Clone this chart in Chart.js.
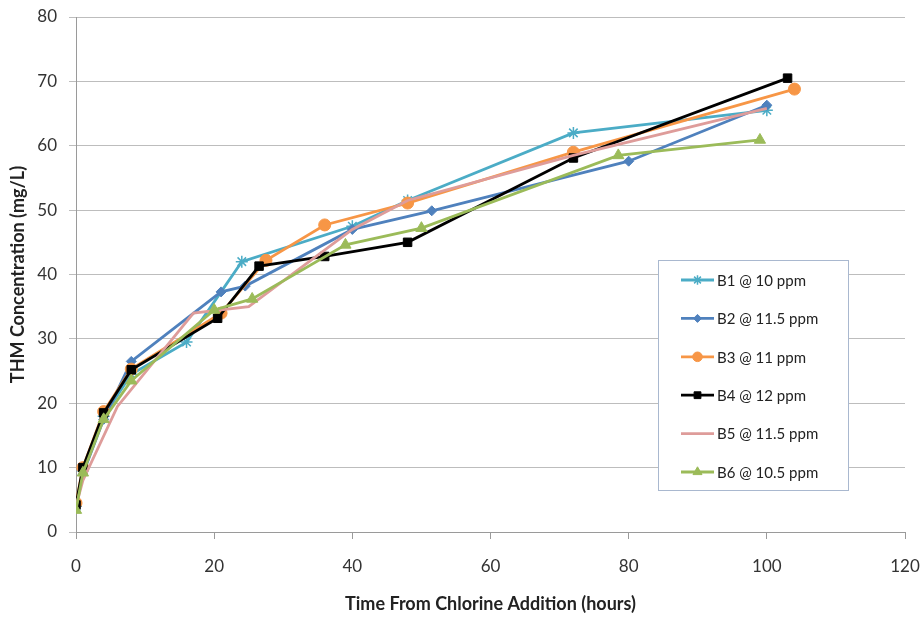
<!DOCTYPE html>
<html>
<head>
<meta charset="utf-8">
<script src="https://cdn.jsdelivr.net/npm/chart.js@4.4.1/dist/chart.umd.min.js"></script>
<style>
  html, body { margin: 0; padding: 0; background: #fff; }
  #wrap { width: 921px; height: 617px; position: relative; }
</style>
</head>
<body>
<div id="wrap"><canvas id="chart" width="921" height="617"></canvas></div>
<script>
// Series data (hours, mg/L)
const seriesNames = ['B1 @ 10 ppm', 'B2 @ 11.5 ppm', 'B3 @ 11 ppm', 'B4 @ 12 ppm', 'B5 @ 11.5 ppm', 'B6 @ 10.5 ppm'];

const b1Hours = [0, 1, 4, 8, 16, 24, 40, 48, 72, 100];
const b1Thm   = [4, 9.5, 18, 24.5, 29.5, 42, 47.5, 51.5, 62, 65.5];

const b2Hours = [0, 1, 4, 8, 21, 24.5, 40, 51.5, 80, 100];
const b2Thm   = [4, 9, 17.5, 26.5, 37.3, 38.2, 47, 49.9, 57.6, 66.3];

const b3Hours = [0, 1, 4, 8, 21, 27.5, 36, 48, 72, 104];
const b3Thm   = [4.5, 10, 18.7, 25.3, 34, 42.2, 47.7, 51.1, 59, 68.8];

const b4Hours = [0, 1, 4, 8, 20.5, 26.5, 36, 48, 72, 103];
const b4Thm   = [4.2, 10, 18.5, 25.2, 33.2, 41.3, 42.8, 45, 58.1, 70.5];

const b5Hours = [0, 1, 6, 17, 25, 40, 48, 72, 100];
const b5Thm   = [4, 8, 19.5, 34, 35, 47, 51.5, 58.5, 65.8];

const b6Hours = [0, 1, 4, 8, 20, 25.5, 39, 50, 78.5, 99];
const b6Thm   = [3.4, 9.2, 17.5, 23.5, 34.5, 36.2, 44.6, 47.2, 58.5, 60.9];

const COLORS = ['#4BACC6', '#4F81BD', '#F79646', '#000000', '#DE9C9A', '#9BBB59'];
const STYLES = ['star', 'rectRot', 'circle', 'rect', false, 'triangle'];
const RADII  = [6, 5, 6, 6, 0, 6.5];

const allHours = [b1Hours, b2Hours, b3Hours, b4Hours, b5Hours, b6Hours];
const allThm   = [b1Thm, b2Thm, b3Thm, b4Thm, b5Thm, b6Thm];

const FONT = 'Lato, "Open Sans", sans-serif';

function toPoints(xs, ys) {
  return xs.map((x, i) => ({ x: x, y: ys[i] }));
}

// Desenha um marcador na legenda
function drawMarker(ctx, style, r, x, y, color) {
  if (!style || r <= 0) return;
  ctx.save();
  ctx.fillStyle = color;
  ctx.strokeStyle = color;
  ctx.lineWidth = style === 'star' ? 1.5 : 1;
  if (Chart.helpers && Chart.helpers.drawPoint) {
    Chart.helpers.drawPoint(ctx, { pointStyle: style, radius: r, rotation: 0, borderWidth: ctx.lineWidth }, x, y);
  }
  ctx.restore();
}

// Legenda dentro da area do grafico, com caixa
const boxLegend = {
  id: 'boxLegend',
  afterDraw(chart) {
    const ctx = chart.ctx;
    const left = 658, top = 260, w = 190, h = 230;
    ctx.save();
    ctx.fillStyle = '#ffffff';
    ctx.fillRect(left, top, w, h);
    ctx.strokeStyle = '#A9B8CF';
    ctx.lineWidth = 1;
    ctx.strokeRect(left + 0.5, top + 0.5, w, h);
    ctx.font = '15px ' + FONT;
    ctx.textBaseline = 'middle';
    ctx.textAlign = 'left';
    seriesNames.forEach((name, i) => {
      const y = top + 20 + i * 38.4;
      ctx.strokeStyle = COLORS[i];
      ctx.lineWidth = 2.8;
      ctx.beginPath();
      ctx.moveTo(681, y);
      ctx.lineTo(714, y);
      ctx.stroke();
      drawMarker(ctx, STYLES[i], RADII[i] * 0.8, 697.5, y, COLORS[i]);
      ctx.fillStyle = '#222';
      ctx.fillText(name, 717, y + 1);
    });
    ctx.restore();
  }
};

const datasets = seriesNames.map((name, i) => ({
  label: name,
  data: toPoints(allHours[i], allThm[i]),
  borderColor: COLORS[i],
  backgroundColor: COLORS[i],
  borderWidth: 2.8,
  pointStyle: STYLES[i],
  pointRadius: RADII[i],
  pointBorderWidth: STYLES[i] === 'star' ? 1.5 : 1,
  pointBorderColor: COLORS[i],
  pointBackgroundColor: COLORS[i],
  tension: 0,
  fill: false,
  order: 6 - i
}));

new Chart(document.getElementById('chart'), {
  type: 'line',
  data: { datasets },
  options: {
    responsive: false,
    animation: false,
    layout: { padding: { left: 0, right: 16, top: 17, bottom: 0 } },
    plugins: {
      legend: { display: false },
      tooltip: { enabled: false }
    },
    scales: {
      x: {
        type: 'linear',
        min: 0,
        max: 120,
        afterFit: s => { s.height = 85; s.paddingLeft = 0; s.paddingRight = 0; },
        ticks: { stepSize: 20, color: '#333', font: { family: FONT, size: 17 }, padding: 17, maxRotation: 0 },
        grid: { drawOnChartArea: false, drawTicks: true, tickLength: 7, color: '#9a9a9a' },
        border: { color: '#9a9a9a', width: 1 },
        title: {
          display: true,
          text: 'Time From Chlorine Addition (hours)',
          color: '#222',
          font: { family: FONT, size: 18, weight: 'bold' },
          padding: { top: 4, bottom: 2 }
        }
      },
      y: {
        min: 0,
        max: 80,
        afterFit: s => { s.width = 76; s.paddingTop = 0; s.paddingBottom = 0; },
        ticks: { stepSize: 10, color: '#333', font: { family: FONT, size: 17 }, padding: 12 },
        grid: { color: '#bdbdbd', tickLength: 7 },
        border: { color: '#9a9a9a', width: 1 },
        title: {
          display: true,
          text: 'THM Concentration (mg/L)',
          color: '#222',
          font: { family: FONT, size: 18, weight: 'bold' },
          padding: { top: 7, bottom: 4 }
        }
      }
    }
  },
  plugins: [boxLegend]
});
</script>
</body>
</html>
